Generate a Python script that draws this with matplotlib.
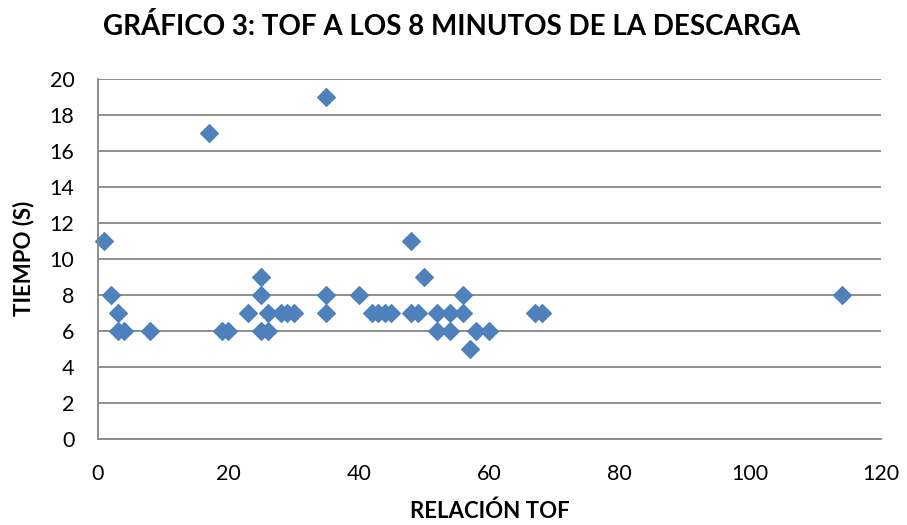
import matplotlib.pyplot as plt

# Data
relacion_tof = [1, 2, 3, 3, 4, 8, 17, 19, 20, 23, 25, 25, 25, 26, 26, 28, 29, 30,
                35, 35, 35, 40, 42, 43, 44, 45, 48, 48, 49, 50, 52, 52, 54, 54,
                56, 56, 57, 58, 60, 67, 68, 114]
tiempo = [11, 8, 7, 6, 6, 6, 17, 6, 6, 7, 9, 8, 6, 7, 6, 7, 7, 7,
          19, 8, 7, 8, 7, 7, 7, 7, 11, 7, 7, 9, 7, 6, 7, 6,
          8, 7, 5, 6, 6, 7, 7, 8]
x_ticks = [0, 20, 40, 60, 80, 100, 120]
y_ticks = [0, 2, 4, 6, 8, 10, 12, 14, 16, 18, 20]

plt.rcParams['font.family'] = ['Lato', 'DejaVu Sans']

fig = plt.figure(figsize=(9.07, 5.25), dpi=100)
ax = fig.add_axes([0.108, 0.164, 0.863, 0.686])

# Grid lines
ax.set_axisbelow(True)
ax.yaxis.grid(True, color='#868686', linewidth=1.3)

ax.plot(relacion_tof, tiempo, linestyle='none', marker='D', markersize=9.5,
        markerfacecolor='#4F81BD', markeredgecolor='#4A7EBB', markeredgewidth=0.8,
        clip_on=False)

ax.set_xlim(0, 120)
ax.set_ylim(0, 20)
ax.set_xticks(x_ticks)
ax.set_yticks(y_ticks)
ax.tick_params(axis='both', length=0, labelsize=15.5)
ax.tick_params(axis='x', pad=18)
ax.tick_params(axis='y', pad=17)

# Spines
ax.spines['top'].set_visible(False)
ax.spines['right'].set_visible(False)
ax.spines['left'].set_color('#868686')
ax.spines['bottom'].set_color('#868686')
ax.spines['left'].set_linewidth(1.3)
ax.spines['bottom'].set_linewidth(1.3)

# Labels
fig.suptitle('GRÁFICO 3: TOF A LOS 8 MINUTOS DE LA DESCARGA', x=0.498, y=0.975,
             fontsize=20, fontweight='bold')
ax.set_xlabel('RELACIÓN TOF', fontsize=16, fontweight='bold', labelpad=12)
ax.set_ylabel('TIEMPO (S)', fontsize=16, fontweight='bold', labelpad=11)

plt.savefig('out.png', dpi=100)
